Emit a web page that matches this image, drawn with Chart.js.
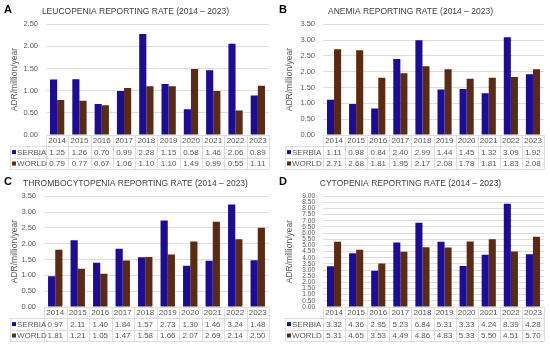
<!DOCTYPE html>
<html><head><meta charset="utf-8">
<script src="https://cdn.jsdelivr.net/npm/chart.js@4.4.1/dist/chart.umd.min.js"></script>
<style>
html,body{margin:0;padding:0;background:#fff;width:550px;height:347px;overflow:hidden;}
.p{position:absolute;width:275px;height:173px;}
</style></head><body>
<div class="p" style="left:0;top:0"><canvas id="cA" width="275" height="173"></canvas></div>
<div class="p" style="left:275px;top:0"><canvas id="cB" width="275" height="173"></canvas></div>
<div class="p" style="left:0;top:172px"><canvas id="cC" width="275" height="173"></canvas></div>
<div class="p" style="left:275px;top:172px"><canvas id="cD" width="275" height="173"></canvas></div>
<script>
const years = ['2014','2015','2016','2017','2018','2019','2020','2021','2022','2023'];
const seriesNames = ['SERBIA','WORLD'];
const leucSerbia = [1.25,1.26,0.70,0.99,2.28,1.15,0.58,1.46,2.06,0.89];
const leucWorld  = [0.79,0.77,0.67,1.06,1.10,1.10,1.49,0.99,0.55,1.11];
const anemSerbia = [1.11,0.98,0.84,2.40,2.99,1.44,1.45,1.32,3.09,1.92];
const anemWorld  = [2.71,2.68,1.81,1.95,2.17,2.08,1.78,1.81,1.83,2.08];
const thrSerbia  = [0.97,2.11,1.40,1.84,1.57,2.73,1.30,1.46,3.24,1.48];
const thrWorld   = [1.81,1.21,1.05,1.47,1.58,1.66,2.07,2.69,2.14,2.50];
const cytSerbia  = [3.32,4.36,2.95,5.23,6.84,5.31,3.33,4.24,8.39,4.28];
const cytWorld   = [5.31,4.65,3.53,4.49,4.86,4.83,5.33,5.50,4.51,5.70];

const COL_S = '#1c0c96', COL_W = '#5a2b12';
const FONT = '"Liberation Sans", Arial, sans-serif';
const TXT = '#595959', GRID = '#dedede';

const tablePlugin = {
  id: 'tbl',
  afterDraw(chart, args, o) {
    const ctx = chart.ctx, xs = chart.scales.x, ca = chart.chartArea;
    const half = (xs.getPixelForValue(1) - xs.getPixelForValue(0)) / 2;
    const rowH = 11.4;
    const top = ca.bottom;
    const left0 = xs.getPixelForValue(0) - half;
    const right = xs.getPixelForValue(years.length - 1) + half;
    const lblLeft = o.lblLeft;
    ctx.save();
    ctx.strokeStyle = GRID; ctx.lineWidth = 1;
    ctx.beginPath();
    ctx.moveTo(left0, top + 0.5); ctx.lineTo(right, top + 0.5);
    for (let r = 1; r <= 3; r++) {
      const y = Math.round(top + r * rowH) + 0.5;
      ctx.moveTo(lblLeft, y); ctx.lineTo(right, y);
    }
    for (let i = 0; i <= years.length; i++) {
      const x = Math.round(left0 + i * 2 * half) + 0.5;
      ctx.moveTo(x, top); ctx.lineTo(x, top + 3 * rowH);
    }
    ctx.moveTo(lblLeft + 0.5, top + rowH); ctx.lineTo(lblLeft + 0.5, top + 3 * rowH);
    ctx.stroke();
    ctx.fillStyle = TXT; ctx.font = '8px ' + FONT;
    ctx.textAlign = 'center'; ctx.textBaseline = 'middle';
    const ds = chart.data.datasets;
    years.forEach((yr, i) => {
      const cx = xs.getPixelForValue(i);
      ctx.fillText(yr, cx, top + rowH * 0.5 + 0.5);
      ctx.fillText(ds[0].data[i].toFixed(2), cx, top + rowH * 1.5 + 0.5);
      ctx.fillText(ds[1].data[i].toFixed(2), cx, top + rowH * 2.5 + 0.5);
    });
    ctx.textAlign = 'left';
    [COL_S, COL_W].forEach((c, k) => {
      const cy = top + rowH * (1.5 + k);
      ctx.fillStyle = c;
      ctx.fillRect(lblLeft + 2, cy - 2, 4, 4);
      ctx.fillStyle = TXT;
      ctx.fillText(seriesNames[k], lblLeft + 7, cy + 0.5);
    });
    ctx.fillStyle = '#000'; ctx.font = 'bold 11px ' + FONT;
    ctx.textBaseline = 'alphabetic';
    ctx.fillText(o.letter, 4, 13);
    ctx.restore();
  }
};

function make(id, letter, title, s, w, max, step, cfg) {
  new Chart(document.getElementById(id), {
    type: 'bar',
    data: {
      labels: years,
      datasets: [
        { label: seriesNames[0], data: s, backgroundColor: COL_S },
        { label: seriesNames[1], data: w, backgroundColor: COL_W }
      ]
    },
    options: {
      responsive: false, animation: false,
      categoryPercentage: 0.64, barPercentage: 1.0,
      layout: { padding: { left: 2, right: cfg.right, top: cfg.top, bottom: 38 } },
      plugins: {
        legend: { display: false }, tooltip: { enabled: false },
        title: { display: true, text: title, color: '#404040',
          font: { family: FONT, size: 8.5, weight: 'normal' }, padding: { top: 7, bottom: 7 } },
        tbl: { letter: letter, lblLeft: 10 }
      },
      scales: {
        x: { display: false },
        y: {
          min: 0, max: max,
          afterFit(sc) { sc.width = cfg.yw; },
          border: { display: false },
          grid: { color: GRID, drawTicks: false },
          ticks: { stepSize: step, autoSkip: false, color: TXT, padding: 8,
            font: { family: FONT, size: cfg.tickSize },
            callback: v => Number(v).toFixed(2) },
          title: { display: true, text: 'ADR/million/year', color: TXT,
            font: { family: FONT, size: 8.5 }, padding: { top: 8, bottom: 0 } }
        }
      }
    },
    plugins: [tablePlugin]
  });
}

make('cA', 'A', 'LEUCOPENIA REPORTING RATE (2014 \u2013 2023)', leucSerbia, leucWorld, 2.5, 0.5,
  { right: 6, top: 0, yw: 44, tickSize: 7.5 });
make('cB', 'B', 'ANEMIA REPORTING RATE (2014 \u2013 2023)', anemSerbia, anemWorld, 3.5, 0.5,
  { right: 6, top: 0, yw: 46, tickSize: 7.5 });
make('cC', 'C', 'THROMBOCYTOPENIA REPORTING RATE (2014 \u2013 2023)', thrSerbia, thrWorld, 3.5, 0.5,
  { right: 6, top: 0, yw: 42, tickSize: 7.5 });
make('cD', 'D', 'CYTOPENIA REPORTING RATE (2014 \u2013 2023)', cytSerbia, cytWorld, 9, 0.5,
  { right: 6, top: 0, yw: 46, tickSize: 6.5 });
</script>
</body></html>
